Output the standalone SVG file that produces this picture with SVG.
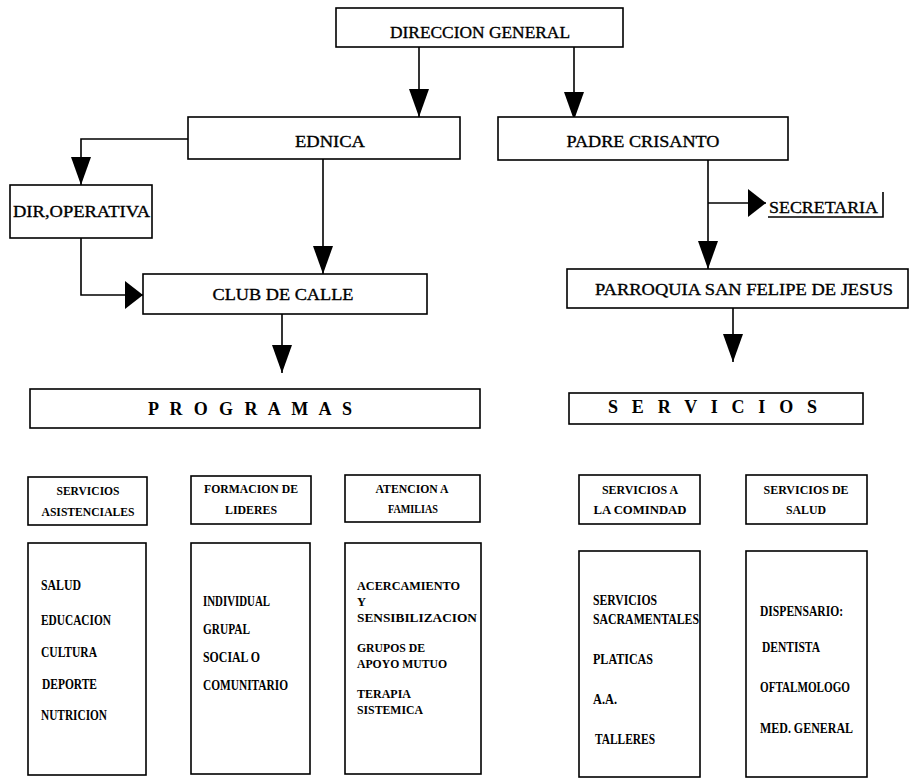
<svg xmlns="http://www.w3.org/2000/svg" width="912" height="781" viewBox="0 0 912 781">
  <style>
    .box { fill: #ffffff; stroke: #000000; stroke-width: 1.6; }
    .line { fill: none; stroke: #000000; stroke-width: 1.6; }
    .head { fill: #000000; stroke: none; }
    .t1 { font-family: "Liberation Serif", "Times New Roman", serif; font-size: 17.5px; fill: #000; stroke: #000; stroke-width: 0.35; }
    .t2 { font-family: "Liberation Serif", "Times New Roman", serif; font-size: 18px; font-weight: bold; fill: #000; }
    .t3 { font-family: "Liberation Serif", "Times New Roman", serif; font-size: 12.5px; font-weight: bold; fill: #000; }
    .t4 { font-family: "Liberation Serif", "Times New Roman", serif; font-size: 14.5px; font-weight: bold; fill: #000; }
    .t5 { font-family: "Liberation Serif", "Times New Roman", serif; font-size: 12.5px; font-weight: bold; fill: #000; }
    .c { text-anchor: middle; }
  </style>
  <defs>
    <!-- filled triangular arrowheads: vertical ones long and narrow, horizontal ones short and tall -->
    <marker id="arrowV" markerUnits="userSpaceOnUse" markerWidth="28" markerHeight="20" refX="28" refY="10" orient="auto" viewBox="0 0 28 20">
      <path class="head" d="M0,0 L28,10 L0,20 Z"/>
    </marker>
    <marker id="arrowH" markerUnits="userSpaceOnUse" markerWidth="18" markerHeight="28" refX="18" refY="14" orient="auto" viewBox="0 0 18 28">
      <path class="head" d="M0,0 L18,14 L0,28 Z"/>
    </marker>
  </defs>

  <rect width="912" height="781" fill="#ffffff"/>

  <!-- connectors -->
  <g id="connectors">
    <line class="line" x1="419" y1="47" x2="419" y2="117" marker-end="url(#arrowV)"/>
    <line class="line" x1="574" y1="47" x2="574" y2="120" marker-end="url(#arrowV)"/>
    <polyline class="line" points="188,139 81,139 81,185" marker-end="url(#arrowV)"/>
    <line class="line" x1="323" y1="159" x2="323" y2="274" marker-end="url(#arrowV)"/>
    <polyline class="line" points="81,238 81,295 143,295" marker-end="url(#arrowH)"/>
    <line class="line" x1="282" y1="314" x2="282" y2="373" marker-end="url(#arrowV)"/>
    <line class="line" x1="708" y1="160" x2="708" y2="269" marker-end="url(#arrowV)"/>
    <line class="line" x1="708" y1="203" x2="766" y2="203" marker-end="url(#arrowH)"/>
    <line class="line" x1="733" y1="308" x2="733" y2="362" marker-end="url(#arrowV)"/>
  </g>

  <!-- upper levels -->
  <g id="direccion-general">
    <rect class="box" x="336" y="8" width="287" height="39"/>
    <text class="t1 c" x="480" y="38" textLength="180" lengthAdjust="spacingAndGlyphs">DIRECCION GENERAL</text>
  </g>
  <g id="ednica">
    <rect class="box" x="188" y="117" width="272" height="42"/>
    <text class="t1 c" x="330" y="147" textLength="70" lengthAdjust="spacingAndGlyphs">EDNICA</text>
  </g>
  <g id="padre-crisanto">
    <rect class="box" x="498" y="117" width="290" height="43"/>
    <text class="t1 c" x="643" y="147" textLength="153" lengthAdjust="spacingAndGlyphs">PADRE CRISANTO</text>
  </g>
  <g id="dir-operativa">
    <rect class="box" x="10" y="185" width="142" height="53"/>
    <text class="t1" x="13" y="217" textLength="137" lengthAdjust="spacingAndGlyphs">DIR,OPERATIVA</text>
  </g>
  <g id="club-de-calle">
    <rect class="box" x="143" y="274" width="284" height="40"/>
    <text class="t1 c" x="283" y="300" textLength="141" lengthAdjust="spacingAndGlyphs">CLUB DE CALLE</text>
  </g>
  <g id="secretaria">
    <polyline class="line" points="768,217 883,217 883,192"/>
    <text class="t1" x="769" y="213" textLength="109" lengthAdjust="spacingAndGlyphs">SECRETARIA</text>
  </g>
  <g id="parroquia">
    <rect class="box" x="567" y="269" width="341" height="39"/>
    <text class="t1 c" x="744" y="295" textLength="298" lengthAdjust="spacingAndGlyphs">PARROQUIA SAN FELIPE DE JESUS</text>
  </g>

  <!-- section headings -->
  <g id="programas">
    <rect class="box" x="30" y="389" width="450" height="39"/>
    <text class="t2" x="148" y="415" textLength="204" lengthAdjust="spacing">P R O G R A M A S</text>
  </g>
  <g id="servicios">
    <rect class="box" x="569" y="393" width="294" height="31"/>
    <text class="t2" x="608" y="413" textLength="209" lengthAdjust="spacing">S E R V I C I O S</text>
  </g>

  <!-- programme headers -->
  <g id="servicios-asistenciales">
    <rect class="box" x="28" y="477" width="119" height="48"/>
    <text class="t3 c" x="88" y="495" textLength="63" lengthAdjust="spacingAndGlyphs">SERVICIOS</text>
    <text class="t3 c" x="88" y="516" textLength="93" lengthAdjust="spacingAndGlyphs">ASISTENCIALES</text>
  </g>
  <g id="formacion-de-lideres">
    <rect class="box" x="191" y="476" width="120" height="48"/>
    <text class="t3 c" x="251" y="493" textLength="94" lengthAdjust="spacingAndGlyphs">FORMACION DE</text>
    <text class="t3 c" x="251" y="514" textLength="52" lengthAdjust="spacingAndGlyphs">LIDERES</text>
  </g>
  <g id="atencion-a-familias">
    <rect class="box" x="345" y="475" width="135" height="47"/>
    <text class="t3 c" x="412" y="493" textLength="73" lengthAdjust="spacingAndGlyphs">ATENCION A</text>
    <text class="t3 c" x="413" y="513" textLength="50" lengthAdjust="spacingAndGlyphs">FAMILIAS</text>
  </g>
  <g id="servicios-a-la-comunidad">
    <rect class="box" x="579" y="475" width="121" height="49"/>
    <text class="t3 c" x="640" y="494" textLength="76" lengthAdjust="spacingAndGlyphs">SERVICIOS A</text>
    <text class="t3 c" x="640" y="514" textLength="93" lengthAdjust="spacingAndGlyphs">LA COMINDAD</text>
  </g>
  <g id="servicios-de-salud">
    <rect class="box" x="746" y="475" width="121" height="49"/>
    <text class="t3 c" x="806" y="494" textLength="85" lengthAdjust="spacingAndGlyphs">SERVICIOS DE</text>
    <text class="t3 c" x="806" y="514" textLength="40" lengthAdjust="spacingAndGlyphs">SALUD</text>
  </g>

  <!-- programme contents -->
  <g id="lista-asistenciales">
    <rect class="box" x="28" y="543" width="118" height="232"/>
    <text class="t4" x="41" y="590" textLength="40" lengthAdjust="spacingAndGlyphs">SALUD</text>
    <text class="t4" x="41" y="625" textLength="70" lengthAdjust="spacingAndGlyphs">EDUCACION</text>
    <text class="t4" x="41" y="657" textLength="56" lengthAdjust="spacingAndGlyphs">CULTURA</text>
    <text class="t4" x="42" y="689" textLength="55" lengthAdjust="spacingAndGlyphs">DEPORTE</text>
    <text class="t4" x="41" y="720" textLength="66" lengthAdjust="spacingAndGlyphs">NUTRICION</text>
  </g>
  <g id="lista-lideres">
    <rect class="box" x="191" y="543" width="119" height="231"/>
    <text class="t4" x="203" y="606" textLength="67" lengthAdjust="spacingAndGlyphs">INDIVIDUAL</text>
    <text class="t4" x="203" y="634" textLength="47" lengthAdjust="spacingAndGlyphs">GRUPAL</text>
    <text class="t4" x="203" y="662" textLength="57" lengthAdjust="spacingAndGlyphs">SOCIAL O</text>
    <text class="t4" x="203" y="690" textLength="85" lengthAdjust="spacingAndGlyphs">COMUNITARIO</text>
  </g>
  <g id="lista-familias">
    <rect class="box" x="345" y="543" width="136" height="231"/>
    <text class="t5" x="357" y="590" textLength="103" lengthAdjust="spacingAndGlyphs">ACERCAMIENTO</text>
    <text class="t5" x="357" y="606">Y</text>
    <text class="t5" x="357" y="622" textLength="120" lengthAdjust="spacingAndGlyphs">SENSIBILIZACION</text>
    <text class="t5" x="357" y="652" textLength="68" lengthAdjust="spacingAndGlyphs">GRUPOS DE</text>
    <text class="t5" x="357" y="668" textLength="90" lengthAdjust="spacingAndGlyphs">APOYO MUTUO</text>
    <text class="t5" x="357" y="698" textLength="54" lengthAdjust="spacingAndGlyphs">TERAPIA</text>
    <text class="t5" x="357" y="714" textLength="66" lengthAdjust="spacingAndGlyphs">SISTEMICA</text>
  </g>
  <g id="lista-comunidad">
    <rect class="box" x="579" y="551" width="121" height="226"/>
    <text class="t4" x="593" y="605" textLength="64" lengthAdjust="spacingAndGlyphs">SERVICIOS</text>
    <text class="t4" x="593" y="624" textLength="106" lengthAdjust="spacingAndGlyphs">SACRAMENTALES</text>
    <text class="t4" x="593" y="664" textLength="60" lengthAdjust="spacingAndGlyphs">PLATICAS</text>
    <text class="t4" x="593" y="704" textLength="24" lengthAdjust="spacingAndGlyphs">A.A.</text>
    <text class="t4" x="595" y="744" textLength="60" lengthAdjust="spacingAndGlyphs">TALLERES</text>
  </g>
  <g id="lista-salud">
    <rect class="box" x="746" y="551" width="121" height="226"/>
    <text class="t4" x="760" y="616" textLength="83" lengthAdjust="spacingAndGlyphs">DISPENSARIO:</text>
    <text class="t4" x="762" y="652" textLength="58" lengthAdjust="spacingAndGlyphs">DENTISTA</text>
    <text class="t4" x="760" y="692" textLength="90" lengthAdjust="spacingAndGlyphs">OFTALMOLOGO</text>
    <text class="t4" x="760" y="733" textLength="93" lengthAdjust="spacingAndGlyphs">MED. GENERAL</text>
  </g>
</svg>
